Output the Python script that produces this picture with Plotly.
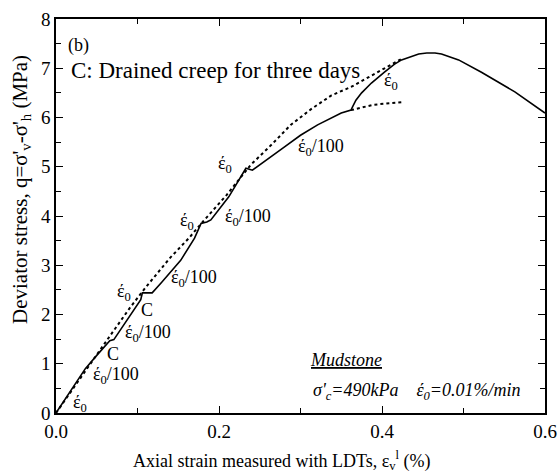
import plotly.graph_objects as go

# Solid test curve (axial strain %, deviator stress MPa)
solid_strain = [0, 0.02, 0.036, 0.05, 0.066, 0.071, 0.085, 0.1, 0.104, 0.106, 0.118,
                0.13, 0.153, 0.17, 0.178, 0.185, 0.19, 0.212, 0.233, 0.241, 0.26, 0.28,
                0.3, 0.321, 0.35, 0.362, 0.364, 0.368, 0.375, 0.387, 0.403, 0.415, 0.424,
                0.435, 0.445, 0.455, 0.465, 0.473, 0.483, 0.494, 0.522, 0.563, 0.6]
solid_q = [0, 0.5, 0.9, 1.17, 1.47, 1.49, 1.84, 2.2, 2.3, 2.44, 2.44,
           2.66, 3.1, 3.55, 3.85, 3.88, 3.92, 4.39, 4.97, 4.93, 5.15, 5.4,
           5.64, 5.85, 6.09, 6.15, 6.22, 6.35, 6.5, 6.7, 6.92, 7.08, 7.17,
           7.24, 7.29, 7.31, 7.31, 7.29, 7.24, 7.17, 6.92, 6.52, 6.09]

# Dotted reference curve (constant rate)
dot_strain = [0, 0.03, 0.06, 0.09, 0.11, 0.14, 0.163, 0.181, 0.209, 0.239, 0.264,
              0.288, 0.313, 0.338, 0.362, 0.387, 0.403, 0.415, 0.424]
dot_q = [0, 0.72, 1.42, 2.12, 2.55, 3.15, 3.55, 3.9, 4.42, 5.04, 5.44,
         5.85, 6.17, 6.45, 6.62, 6.85, 7.0, 7.12, 7.19]

# Dotted continuation after rate switch
dot2_strain = [0.362, 0.39, 0.424]
dot2_q = [6.15, 6.26, 6.31]

# Rate labels
E0 = "έ<sub>0</sub>"
E100 = "έ<sub>0</sub>/100"
label_x = [0.03, 0.073, 0.07, 0.113, 0.112, 0.083, 0.169, 0.161, 0.235, 0.207, 0.325, 0.411]
label_y = [0.2, 0.77, 1.2, 1.62, 2.1, 2.44, 2.74, 3.88, 3.96, 5.05, 5.4, 6.73]
label_text = [E0, E100, "C", E100, "C", E0, E100, E0, E100, E0, E100, E0]

x_ticks = [0.0, 0.2, 0.4, 0.6]
x_tick_labels = ["0.0", "0.2", "0.4", "0.6"]
y_ticks = [0, 1, 2, 3, 4, 5, 6, 7, 8]

FONT = "Liberation Serif"

W, H = 560, 475
PL, PR, PT, PB = 56, 545, 19, 413          # plot area in window pixels
L, T, R, B = PL, PT, W - PR, H - PB
pw, ph = W - L - R, H - T - B

fig = go.Figure()
fig.add_trace(go.Scatter(x=dot_strain, y=dot_q, mode="lines",
                         line=dict(color="black", width=2, dash="dot"), showlegend=False))
fig.add_trace(go.Scatter(x=dot2_strain, y=dot2_q, mode="lines",
                         line=dict(color="black", width=2, dash="dot"), showlegend=False))
fig.add_trace(go.Scatter(x=solid_strain, y=solid_q, mode="lines",
                         line=dict(color="black", width=1.6), showlegend=False))

annotations = []
for x, y, t in zip(label_x, label_y, label_text):
    annotations.append(dict(x=x, y=y, xref="x", yref="y", text=t, showarrow=False,
                            font=dict(family=FONT, size=18, color="black")))

annotations += [
    dict(x=0.012, y=7.47, xref="x", yref="y", text="(b)", showarrow=False, xanchor="left",
         font=dict(family=FONT, size=18, color="black")),
    dict(x=0.016, y=6.95, xref="x", yref="y", text="C: Drained creep for three days",
         showarrow=False, xanchor="left", font=dict(family=FONT, size=23, color="black")),
    dict(x=0.356, y=1.08, xref="x", yref="y", text="<i><u>Mudstone</u></i>", showarrow=False,
         font=dict(family=FONT, size=18, color="black")),
    dict(x=0.443, y=0.43, xref="x", yref="y",
         text="<i>σ'<sub>c</sub>=490kPa    έ<sub>0</sub>=0.01%/min</i>", showarrow=False,
         font=dict(family=FONT, size=18, color="black")),
    # axis titles
    dict(x=(282 - PL) / pw, y=(PB - 461) / ph, xref="paper", yref="paper",
         xanchor="center", yanchor="middle",
         text="Axial strain measured with LDTs, ε<sub>v</sub><sup>l</sup> (%)",
         showarrow=False, font=dict(family=FONT, size=18, color="black")),
    dict(x=(21 - PL) / pw, y=(PB - 190) / ph, xref="paper", yref="paper",
         xanchor="center", yanchor="middle",
         text="Deviator stress, q=σ'<sub>v</sub>-σ'<sub>h</sub> (MPa)", textangle=-90,
         showarrow=False, font=dict(family=FONT, size=21, color="black")),
]

fig.update_layout(
    width=W, height=H,
    margin=dict(l=L, r=R, t=T, b=B),
    paper_bgcolor="white", plot_bgcolor="white",
    font=dict(family=FONT, size=18, color="black"),
    annotations=annotations,
    xaxis=dict(range=[0, 0.6], tickvals=x_ticks, ticktext=x_tick_labels,
               ticks="inside", ticklen=7, tickwidth=1.3, tickcolor="black",
               minor=dict(dtick=0.1, ticks="inside", ticklen=5, tickcolor="black", tickwidth=1.3),
               showline=True, linecolor="black", linewidth=1.6, mirror="ticks",
               showgrid=False, zeroline=False, automargin=False,
               tickfont=dict(family=FONT, size=19)),
    yaxis=dict(range=[0, 8], tickvals=y_ticks,
               ticks="inside", ticklen=7, tickwidth=1.3, tickcolor="black",
               minor=dict(dtick=0.5, ticks="inside", ticklen=5, tickcolor="black", tickwidth=1.3),
               showline=True, linecolor="black", linewidth=1.6, mirror="ticks",
               showgrid=False, zeroline=False, automargin=False,
               tickfont=dict(family=FONT, size=19)),
)

# remove the browser's default 8px body margin so the figure fills the window exactly
fig.write_html("out.html",
               config={"displayModeBar": False},
               post_script="document.body.style.margin='0';document.body.style.overflow='hidden';")
